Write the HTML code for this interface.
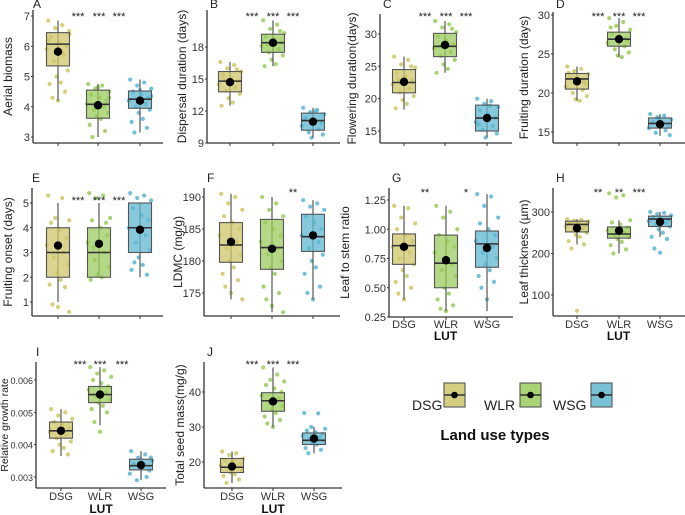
<!DOCTYPE html>
<html><head><meta charset="utf-8"><style>
body{margin:0;background:#fff;}
svg{display:block;font-family:"Liberation Sans",sans-serif;}
</style></head><body>
<svg id="c" width="685" height="515" viewBox="0 0 685 515"></svg>
<script>
const groups=["DSG","WLR","WSG"];
const fills=["#cdc66a","#9bcb5c","#5fb7d0"];
const ptCols=["#c9c35a","#93c84f","#4fb2cf"];
// per-panel data arrays
const lowA=[4.2,3.0,3.15], q1A=[5.35,3.62,3.95], medA=[6.07,4.08,4.25], q3A=[6.45,4.55,4.52], highA=[6.85,4.75,4.9], meanA=[5.82,4.05,4.2];
const ptsA=[[6.85,6.7,6.6,6.5,6.3,6.1,6.0,5.9,5.7,5.5,5.2,5.0,4.8,4.75,4.5,4.3,4.2,6.4,6.2,5.8],[4.75,4.7,4.6,4.5,4.4,4.3,4.2,4.1,4.0,3.9,3.8,3.7,3.6,3.4,3.2,3.0,4.65,4.3],[4.9,4.8,4.7,4.6,4.5,4.4,4.3,4.2,4.1,4.0,3.9,3.8,3.6,3.5,3.3,3.15,4.55,4.35]];
const lowB=[12.5,16.2,9.5], q1B=[13.8,17.5,10.2], medB=[14.8,18.4,11.1], q3B=[15.7,19.2,11.8], highB=[16.6,20.5,12.3], meanB=[14.7,18.4,11.0];
const ptsB=[[16.6,16.3,16.0,15.7,15.4,15.1,14.8,14.5,14.2,13.9,13.6,13.2,12.8,12.5,15.9,14.9],[20.5,20.1,19.7,19.3,19.0,18.7,18.4,18.1,17.8,17.5,17.2,16.8,16.4,16.2,19.5,18.2],[12.3,12.1,11.9,11.7,11.4,11.1,10.9,10.6,10.3,10.0,9.8,9.5,12.0,11.2]];
const lowC=[18.3,24,14], q1C=[20.9,26.5,15], medC=[22.5,28.1,17], q3C=[24.5,30.1,19], highC=[26.5,32,20], meanC=[22.6,28.3,17];
const ptsC=[[26.5,26,25.3,24.8,24,23.4,22.8,22.2,21.6,21,20.4,19.8,19.2,18.5,25,23],[32,31.5,31,30.3,29.6,29,28.4,27.8,27.2,26.6,26,25.3,24.6,24,30.8,28],[20,19.6,19.2,18.7,18.2,17.6,17,16.4,15.8,15.2,14.6,14,18.9,16]];
const lowD=[19,24.6,14.5], q1D=[20.5,26,15.5], medD=[21.8,26.9,16.1], q3D=[22.5,27.8,16.8], highD=[23.4,29.6,17.3], meanD=[21.5,26.9,16.0];
const ptsD=[[23.4,23.1,22.8,22.4,22,21.6,21.2,20.8,20.4,20,19.6,19.2,19,22.6,21.4],[29.6,29.1,28.6,28.1,27.6,27.2,26.8,26.4,26,25.6,25.2,24.8,24.6,28.4,27],[17.3,17.1,16.9,16.6,16.3,16.1,15.8,15.5,15.2,14.9,14.6,16.7,16]];
const lowE=[1,2,2], q1E=[2,2,3], medE=[3,3,4], q3E=[4,4,5], highE=[5,5,5], meanE=[3.28,3.35,3.92];
const ptsE=[[5.3,5.2,4.4,4.3,4.2,3.9,3.6,3.3,3,2.8,2.5,2.2,1.9,1.7,1.6,0.9,0.8,0.6],[5.4,5.3,5.2,4.4,4.3,4,3.7,3.4,3,2.7,2.4,2.1,2,1.9,4.2,3.2],[5.4,5.3,5.2,5.1,4.8,4.5,4.3,4,3.7,3.4,3.1,2.8,2.5,2.3,2.1,2.6]];
const lowF=[174,172,174], q1F=[179.8,178.7,181.5], medF=[182.5,182.1,183.8], q3F=[186,186.5,187.3], highF=[190.5,190,189.5], meanF=[183,181.9,184];
const ptsF=[[190.5,190,189,188,187,186,185,184,183,182,181,180,179,178,177,176,175,174],[190,189,188,187,186,185,184,183,182,181,180,179,178,176,175,174,173,172],[189.5,189,188.5,188,187,186,185,184,183,182,181,180,179,178,176,175,174]];
const lowG=[0.4,0.3,0.3], q1G=[0.70,0.50,0.675], medG=[0.86,0.71,0.875], q3G=[0.96,0.95,0.985], highG=[1.2,1.2,1.3], meanG=[0.85,0.735,0.84];
const ptsG=[[1.2,1.18,1.1,1.05,1.0,0.95,0.9,0.85,0.8,0.75,0.7,0.65,0.6,0.55,0.5,0.45,0.4],[1.2,1.15,1.1,1.0,0.95,0.9,0.85,0.8,0.7,0.65,0.6,0.5,0.45,0.4,0.35,0.32,0.3],[1.3,1.28,1.2,1.1,1.05,1.0,0.95,0.9,0.85,0.8,0.75,0.7,0.65,0.6,0.55,0.5,0.4]];
const lowH=[222,200,240], q1H=[252,237,265], medH=[270,247,283], q3H=[278,264,290], highH=[283,280,300], meanH=[261,255,276];
const ptsH=[[283,281,279,277,274,271,268,265,260,255,250,245,240,230,222,212,62],[345,340,335,280,275,270,262,255,250,245,240,235,228,220,210,200],[300,298,295,292,288,285,282,278,274,270,265,258,250,240,235,212,202]];
const lowI=[0.00365,0.0046,0.0029], q1I=[0.0042,0.0053,0.00322], medI=[0.00443,0.00555,0.00335], q3I=[0.0047,0.0058,0.00355], highI=[0.0051,0.0064,0.0038], meanI=[0.00443,0.00555,0.00337];
const ptsI=[[0.0051,0.005,0.0049,0.0048,0.0047,0.0046,0.0045,0.0044,0.0043,0.0042,0.0041,0.004,0.0039,0.0038,0.0037],[0.0064,0.0063,0.0062,0.0061,0.006,0.0059,0.0058,0.0057,0.0056,0.0055,0.0054,0.0053,0.0052,0.0051,0.005,0.0047,0.0044],[0.0038,0.0037,0.0036,0.0035,0.0034,0.0033,0.0032,0.0031,0.003,0.0029,0.0036,0.0034]];
const lowJ=[14,30,22.5], q1J=[17,34.5,25], medJ=[18.5,37.5,26.2], q3J=[21,39.8,28.3], highJ=[23,47,30], meanJ=[18.7,37.3,26.7];
const ptsJ=[[23,22.5,22,21,20.5,20,19.5,19,18.5,18,17.5,17,16.5,16,15,14],[47,45,43.5,43,42,41,40,39,38,37,36,35,34,33,32,31,30],[34,33.9,30,29.5,29,28.5,28,27.5,27,26.5,26,25.5,25,24,23.5,22.5]];
const tickA=[3,4,5,6,7], tickB=[9,12,15,18], tickC=[15,20,25,30], tickD=[15,20,25,30], tickE=[1,2,3,4,5], tickF=[175,180,185,190], tickG=[0.25,0.5,0.75,1.0,1.25], tickH=[100,200,300], tickI=[0.003,0.004,0.005,0.006], tickJ=[20,30,40];
const starsA=["***","***","***"], starsB=starsA, starsC=starsA, starsD=starsA, starsE=starsA, starsF=["","","**"], starsG=["**","","*"], starsH=["**","**","***"], starsI=starsA, starsJ=starsA;

// layout (positions only)
const panels=[
 {id:"A",lo:lowA,q1:q1A,md:medA,q3:q3A,hi:highA,mn:meanA,pts:ptsA,ticks:tickA,stars:starsA,fmt:v=>v,title:"Aerial biomass",ax:33,right:163,top:10,bot:143,ly0:8,t1:[7,16],t2:[3,137],gx:[58,98,140],sx:[78,99,119],sy:20,tx:12,lab:false},
 {id:"B",lo:lowB,q1:q1B,md:medB,q3:q3B,hi:highB,mn:meanB,pts:ptsB,ticks:tickB,stars:starsB,fmt:v=>v,title:"Dispersal duration (days)",ax:207,right:340,top:10,bot:143,ly0:8,t1:[18,47],t2:[9,143],gx:[230,273,313],sx:[252,273,293],sy:20,tx:186,lab:false},
 {id:"C",lo:lowC,q1:q1C,md:medC,q3:q3C,hi:highC,mn:meanC,pts:ptsC,ticks:tickC,stars:starsC,fmt:v=>v,title:"Flowering duration(days)",ax:380,right:512,top:14,bot:143,ly0:8,t1:[30,34],t2:[15,131],gx:[404,445,487],sx:[425,446,466],sy:20,tx:356,lab:false},
 {id:"D",lo:lowD,q1:q1D,md:medD,q3:q3D,hi:highD,mn:meanD,pts:ptsD,ticks:tickD,stars:starsD,fmt:v=>v,title:"Fruiting duration (days)",ax:553,right:685,top:12,bot:143,ly0:8,t1:[30,15],t2:[15,132],gx:[577,619,660],sx:[598,619,639],sy:20,tx:528,lab:false},
 {id:"E",lo:lowE,q1:q1E,md:medE,q3:q3E,hi:highE,mn:meanE,pts:ptsE,ticks:tickE,stars:starsE,fmt:v=>v,title:"Fruiting onset (days)",ax:32,right:163,top:188,bot:316,ly0:182,t1:[5,203],t2:[1,302],gx:[58,99,140],sx:[78,99,119],sy:204,tx:12,lab:false},
 {id:"F",lo:lowF,q1:q1F,md:medF,q3:q3F,hi:highF,mn:meanF,pts:ptsF,ticks:tickF,stars:starsF,fmt:v=>v,title:"LDMC (mg/g)",ax:204,right:340,top:188,bot:316,ly0:182,t1:[190,197],t2:[175,293],gx:[231,272,313],sx:[252,272,293],sy:196,tx:182,lab:false},
 {id:"G",lo:lowG,q1:q1G,md:medG,q3:q3G,hi:highG,mn:meanG,pts:ptsG,ticks:tickG,stars:starsG,fmt:v=>v.toFixed(2),title:"Leaf to stem ratio",ax:389,right:513,top:188,bot:317,ly0:182,t1:[1.25,200],t2:[0.25,317],gx:[404,446,487],sx:[425,446,466],sy:196,tx:349,lab:true,ly:328,luty:340},
 {id:"H",lo:lowH,q1:q1H,md:medH,q3:q3H,hi:highH,mn:meanH,pts:ptsH,ticks:tickH,stars:starsH,fmt:v=>v,title:"Leaf thickness (\u00b5m)",ax:553,right:685,top:188,bot:316,ly0:182,t1:[300,212],t2:[100,295],gx:[577,619,660],sx:[598,619,639],sy:196,tx:528,lab:true,ly:328,luty:340},
 {id:"I",lo:lowI,q1:q1I,md:medI,q3:q3I,hi:highI,mn:meanI,pts:ptsI,ticks:tickI,stars:starsI,fmt:v=>v.toFixed(3),title:"Relative growth rate",ax:36,right:166,top:362,bot:488,ly0:356,t1:[0.006,380],t2:[0.003,477],gx:[61,100,141],sx:[80,100,122],sy:368,tx:8,lab:true,ly:500,luty:513,small:true},
 {id:"J",lo:lowJ,q1:q1J,md:medJ,q3:q3J,hi:highJ,mn:meanJ,pts:ptsJ,ticks:tickJ,stars:starsJ,fmt:v=>v,title:"Total seed mass(mg/g)",ax:204,right:342,top:362,bot:488,ly0:356,t1:[40,392],t2:[20,462],gx:[232,273,314],sx:[252,273,293],sy:368,tx:184,lab:true,ly:500,luty:513}
];
const NS="http://www.w3.org/2000/svg";
const svg=document.getElementById("c");
function mk(tag,attrs,parent,text){const e=document.createElementNS(NS,tag);for(const k in attrs)e.setAttribute(k,attrs[k]);if(text!==undefined)e.textContent=text;(parent||svg).appendChild(e);return e;}
const jit=[-7,3,-2,8,-5,1,6,-8,4,-3,7,-1,2,-6,5,-4,0,8,-7,3];
panels.forEach(p=>{
  const g=mk("g",{});
  
  
  const k=(p.t2[1]-p.t1[1])/(p.t1[0]-p.t2[0]);
  const y=v=>p.t1[1]+(p.t1[0]-v)*k;
  const lt=mk("text",{x:p.id==="A"||p.id==="E"||p.id==="I"?p.ax:p.ax+3,y:p.ly0,"font-size":12,fill:"#222"},g,p.id);
  
  
  const ya=mk("line",{x1:p.ax,y1:p.top,x2:p.ax,y2:p.bot,stroke:"#333","stroke-width":1.3},g);
  
  
  const xa=mk("line",{x1:p.ax,y1:p.bot,x2:p.right,y2:p.bot,stroke:"#333","stroke-width":1.3},g);
  
  
  p.ticks.forEach(t=>{
    const tl=mk("text",{x:p.ax-3,y:y(t)+4,"text-anchor":"end","font-size":p.small?9:11,fill:"#333"},g,p.fmt(t));
    
    
    mk("line",{x1:p.ax-2,y1:y(t),x2:p.ax,y2:y(t),stroke:"#333"},g);
  });
  const yt=mk("text",{x:p.tx,y:(p.top+p.bot)/2,transform:`rotate(-90 ${p.tx} ${(p.top+p.bot)/2})`,"text-anchor":"middle","font-size":p.small?10.5:12,fill:"#222"},g,p.title);
  
  
  groups.forEach((gr,i)=>{
    const cx=p.gx[i];
    mk("line",{x1:cx,y1:p.bot,x2:cx,y2:p.bot+3,stroke:"#333"},g);
    p.pts[i].forEach((v,j)=>{
      const c=mk("circle",{cx:cx+jit[j%jit.length]*1.4,cy:y(v),r:2.1,fill:ptCols[i],opacity:0.8},g);
      
      
    });
    const w=mk("line",{x1:cx,y1:y(p.hi[i]),x2:cx,y2:y(p.lo[i]),stroke:"#555","stroke-width":1.2},g);
    
    
    const b=mk("rect",{x:cx-11.5,y:y(p.q3[i]),width:23,height:y(p.q1[i])-y(p.q3[i]),fill:fills[i],"fill-opacity":0.75,stroke:"#555","stroke-width":1.1},g);
    
    
    const m=mk("line",{x1:cx-11.5,y1:y(p.md[i]),x2:cx+11.5,y2:y(p.md[i]),stroke:"#333","stroke-width":1.6},g);
    
    
    const mn=mk("circle",{cx:cx,cy:y(p.mn[i]),r:4.2,fill:"#000"},g);
    
    
    if(p.stars[i]){const s=mk("text",{x:p.sx[i],y:p.sy,"text-anchor":"middle","font-size":11,fill:"#222"},g,p.stars[i]);
      
      }
    if(p.lab){const xl=mk("text",{x:cx,y:p.ly,"text-anchor":"middle","font-size":11,fill:"#333"},g,gr);
      
      }
  });
  if(p.lab){const lx=mk("text",{x:(p.gx[0]+p.gx[2])/2,y:p.luty,"text-anchor":"middle","font-size":12,"font-weight":"bold",fill:"#111"},g,"LUT");
    
    }
});
const lg=mk("g",{});


const lkx=[444,520,591], ltx=[412,484,553];
groups.forEach((gr,i)=>{
  const e=mk("g",{},lg);
  
  
  mk("rect",{x:lkx[i],y:383,width:21,height:24,fill:fills[i],"fill-opacity":0.85,stroke:"#555","stroke-width":1.1},e);
  mk("line",{x1:lkx[i],y1:395,x2:lkx[i]+21,y2:395,stroke:"#333","stroke-width":1.5},e);
  mk("circle",{cx:lkx[i]+10.5,cy:395,r:3.3,fill:"#000"},e);
  mk("text",{x:ltx[i],y:410,"font-size":14,fill:"#222"},e,gr);
});
const lt=mk("text",{x:495,y:440,"text-anchor":"middle","font-size":15,"font-weight":"bold",fill:"#111"},lg,"Land use types");


</script>
</body></html>
